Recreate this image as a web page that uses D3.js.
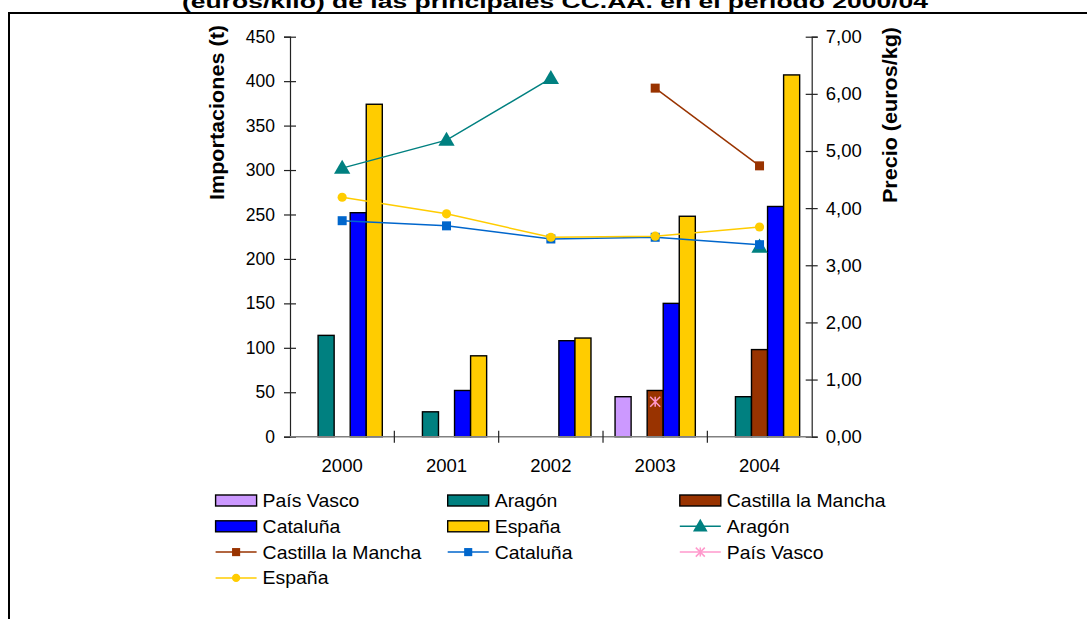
<!DOCTYPE html>
<html>
<head>
<meta charset="utf-8">
<script src="https://cdn.jsdelivr.net/npm/d3@7"></script>
<style>
html,body{margin:0;padding:0;background:#fff;overflow:hidden;}
svg{display:block;font-family:"Liberation Sans",Arial,sans-serif;}
</style>
</head>
<body>
<svg id="chart" width="1087" height="619"></svg>
<script>
// ---- data ----
const years = ["2000", "2001", "2002", "2003", "2004"];
const barSeries = ["País Vasco", "Aragón", "Castilla la Mancha", "Cataluña", "España"];
const importsPaisVasco = [null, null, null, 45, null];
const importsAragon    = [114, 28, null, null, 45];
const importsCastilla  = [null, null, null, 52, 98];
const importsCataluna  = [252, 52, 108, 150, 259];
const importsEspana    = [374, 91, 111, 248, 407];
const lineSeries = ["Aragón", "Castilla la Mancha", "Cataluña", "País Vasco", "España"];
const priceAragon    = [4.70, 5.19, 6.27, null, 3.32];
const priceCastilla  = [null, null, null, 6.10, 4.74];
const priceCataluna  = [3.78, 3.69, 3.46, 3.49, 3.36];
const pricePaisVasco = [null, null, null, 0.61, null];
const priceEspana    = [4.19, 3.90, 3.49, 3.51, 3.67];
const leftTicks  = [0, 50, 100, 150, 200, 250, 300, 350, 400, 450];
const rightTicks = [0, 1, 2, 3, 4, 5, 6, 7];
const titleText = "(euros/kilo) de las principales CC.AA. en el periodo 2000/04";
const leftTitle = "Importaciones (t)";
const rightTitle = "Precio (euros/kg)";

// ---- styles ----
const barColors = ["#CC99FF", "#008080", "#993300", "#0000FF", "#FFCC00"];
const lineColors = ["#008080", "#993300", "#0066CC", "#FF99CC", "#FFCC00"];
const lineMarkers = ["triangle", "square", "square", "asterisk", "circle"];

const barData = [importsPaisVasco, importsAragon, importsCastilla, importsCataluna, importsEspana];
const lineData = [priceAragon, priceCastilla, priceCataluna, pricePaisVasco, priceEspana];

const svg = d3.select("#chart");

// frame
svg.append("rect").attr("x", 9).attr("y", 13).attr("width", 1100).attr("height", 640)
  .attr("fill", "none").attr("stroke", "#000").attr("stroke-width", 2);

// title (partially clipped at top, as in the original)
svg.append("text").attr("x", 555).attr("y", 7.5).attr("text-anchor", "middle")
  .attr("font-size", 18).attr("font-weight", "bold")
  .attr("textLength", 746).attr("lengthAdjust", "spacingAndGlyphs")
  .text(titleText);

const plot = {left: 290, right: 811.7, top: 36.7, bottom: 436.7};

const x0 = d3.scaleBand().domain(years).range([plot.left, plot.right]).padding(0);
const x1 = d3.scaleBand().domain(barSeries).range([0, x0.bandwidth()])
  .paddingInner(0).paddingOuter(0.75);
const yL = d3.scaleLinear().domain([0, 450]).range([plot.bottom, plot.top]);
const yR = d3.scaleLinear().domain([0, 7]).range([plot.bottom, plot.top]);

// bars
barSeries.forEach((s, si) => {
  svg.append("g").selectAll("rect")
    .data(years.map((y, i) => ({y, v: barData[si][i]})).filter(d => d.v != null))
    .join("rect")
    .attr("x", d => x0(d.y) + x1(s))
    .attr("y", d => yL(d.v))
    .attr("width", x1.bandwidth())
    .attr("height", d => yL(0) - yL(d.v))
    .attr("fill", barColors[si])
    .attr("stroke", "#000").attr("stroke-width", 1.4);
});

// axes
const tickFont = "Liberation Sans, Arial, sans-serif";
const axL = svg.append("g").attr("transform", `translate(${plot.left},0)`)
  .call(d3.axisLeft(yL).tickValues(leftTicks).tickSize(6).tickPadding(9));
const axR = svg.append("g").attr("transform", `translate(${plot.right},0)`)
  .call(d3.axisRight(yR).tickValues(rightTicks).tickSize(6).tickPadding(8)
    .tickFormat(d => d.toFixed(2).replace(".", ",")));
[axL, axR].forEach(ax => {
  ax.select(".domain").attr("stroke", "#222").attr("stroke-width", 1.2);
  ax.selectAll(".tick line").attr("stroke", "#222").attr("stroke-width", 1.2);
  ax.selectAll("text").attr("font-family", tickFont).attr("fill", "#000");
});
axL.selectAll(".tick line").attr("x1", 6).attr("x2", -6);
axR.selectAll(".tick line").attr("x1", -6).attr("x2", 6);
axL.selectAll("text").attr("font-size", 17.5);
axR.selectAll("text").attr("font-size", 18.5);

// x axis
const axX = svg.append("g").attr("transform", `translate(0,${plot.bottom})`);
axX.append("line").attr("x1", plot.left).attr("x2", plot.right)
  .attr("stroke", "#808080").attr("stroke-width", 1.5);
years.forEach((y, i) => {
  if (i > 0) {
    axX.append("line").attr("x1", x0(y)).attr("x2", x0(y)).attr("y1", -6).attr("y2", 6)
      .attr("stroke", "#222").attr("stroke-width", 1.2);
  }
  axX.append("text").attr("x", x0(y) + x0.bandwidth() / 2).attr("y", 35)
    .attr("text-anchor", "middle").attr("font-size", 18.5).text(y);
});

// axis titles
svg.append("text").attr("transform", `translate(224,112.5) rotate(-90)`)
  .attr("text-anchor", "middle").attr("font-size", 20.5).attr("font-weight", "bold")
  .attr("textLength", 175).attr("lengthAdjust", "spacingAndGlyphs").text(leftTitle);
svg.append("text").attr("transform", `translate(897,115) rotate(-90)`)
  .attr("text-anchor", "middle").attr("font-size", 20.5).attr("font-weight", "bold")
  .attr("textLength", 176).attr("lengthAdjust", "spacingAndGlyphs").text(rightTitle);

// markers
function drawMarker(g, type, cx, cy, color, scale) {
  if (type === "triangle") {
    g.append("path").attr("d", d3.symbol(d3.symbolTriangle, 115 * scale * scale)())
      .attr("transform", `translate(${cx},${cy + 1})`).attr("fill", color);
  } else if (type === "square") {
    const s = 9 * scale;
    g.append("rect").attr("x", cx - s / 2).attr("y", cy - s / 2).attr("width", s).attr("height", s)
      .attr("fill", color);
  } else if (type === "circle") {
    g.append("circle").attr("cx", cx).attr("cy", cy).attr("r", 4.6 * scale).attr("fill", color);
  } else if (type === "asterisk") {
    const r = 5 * scale;
    const p = `M${cx - r},${cy - r}L${cx + r},${cy + r}M${cx - r},${cy + r}L${cx + r},${cy - r}M${cx},${cy - r}L${cx},${cy + r}`;
    g.append("path").attr("d", p).attr("stroke", color).attr("stroke-width", 1.5).attr("fill", "none");
  }
}

// lines
const line = d3.line().defined(d => d.v != null)
  .x(d => x0(d.y) + x0.bandwidth() / 2).y(d => yR(d.v));
lineSeries.forEach((s, si) => {
  const g = svg.append("g");
  const pts = years.map((y, i) => ({y, v: lineData[si][i]}));
  g.append("path").attr("d", line(pts)).attr("fill", "none")
    .attr("stroke", lineColors[si]).attr("stroke-width", 1.5);
  pts.filter(d => d.v != null).forEach(d => {
    drawMarker(g, lineMarkers[si], x0(d.y) + x0.bandwidth() / 2, yR(d.v), lineColors[si], 1);
  });
});

// legend
const legendItems = [
  ...barSeries.map((s, i) => ({label: s, kind: "bar", color: barColors[i]})),
  ...lineSeries.map((s, i) => ({label: s, kind: "line", color: lineColors[i], marker: lineMarkers[i]}))
];
const lg = svg.append("g");
legendItems.forEach((it, i) => {
  const col = i % 3, row = Math.floor(i / 3);
  const sx = 215.6 + col * 232.1, cy = 500.5 + row * 25.8;
  const g = lg.append("g");
  if (it.kind === "bar") {
    g.append("rect").attr("x", sx).attr("y", cy - 5.5).attr("width", 41).attr("height", 11)
      .attr("fill", it.color).attr("stroke", "#000").attr("stroke-width", 1.4);
  } else {
    g.append("line").attr("x1", sx).attr("x2", sx + 41).attr("y1", cy).attr("y2", cy)
      .attr("stroke", it.color).attr("stroke-width", 1.5);
    drawMarker(g, it.marker, sx + 20.5, cy, it.color, 0.9);
  }
  g.append("text").attr("transform", `translate(${sx + 47},${cy + 6.5}) scale(1.08,1)`)
    .attr("font-size", 18).text(it.label);
});
</script>
</body>
</html>
